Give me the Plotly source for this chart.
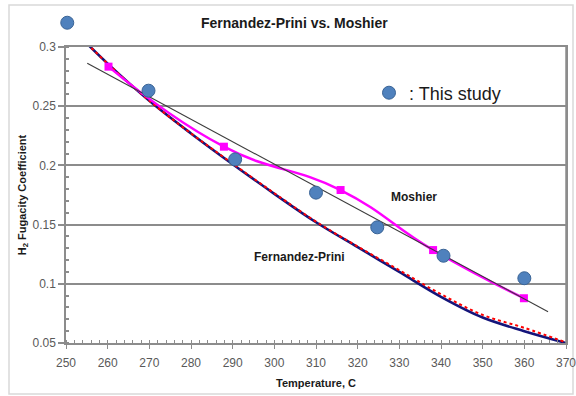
import plotly.graph_objects as go

# ---- data ----
study_T = [250.3, 269.8, 290.6, 310.0, 324.7, 340.6, 360.0]
study_phi = [0.3205, 0.2631, 0.2051, 0.1770, 0.1477, 0.1237, 0.1047]

moshier_T = [260.2, 287.9, 315.9, 338.1, 359.9]
moshier_phi = [0.2834, 0.2158, 0.1792, 0.1285, 0.0878]

fp_T = [255, 260, 270, 280, 290, 300, 310, 320, 330, 340, 350, 360, 370]
fp_phi = [0.303, 0.286, 0.2546, 0.227, 0.201, 0.176, 0.152, 0.131, 0.110, 0.089, 0.0715, 0.0600, 0.0500]

fp2_T = [255, 260, 270, 280, 290, 300, 310, 320, 330, 340, 350, 360, 370]
fp2_phi = [0.303, 0.286, 0.2546, 0.227, 0.2015, 0.1765, 0.1525, 0.1315, 0.1115, 0.0912, 0.0737, 0.0628, 0.0505]

fit_T = [255.1, 365.7]
fit_phi = [0.2862, 0.0764]

x_ticks = [250, 260, 270, 280, 290, 300, 310, 320, 330, 340, 350, 360, 370]
y_ticks = [0.05, 0.1, 0.15, 0.2, 0.25, 0.3]
y_ticklabels = ["0.05", "0.1", "0.15", "0.2", "0.25", "0.3"]

FONT = "Liberation Sans, Arial, sans-serif"

# ---- layout geometry (pixels) ----
W, H = 576, 396
L, R, T, B = 66, 10, 5, 53          # paper area margins
PLOT_TOP = 47                        # pixel row of y = 0.3 (top of plot box)
paper_h = H - T - B
main_top = (H - B - PLOT_TOP) / paper_h   # domain top of main y axis
y_lo, y_hi = 0.05, 0.3
y2_hi = y_lo + (y_hi - y_lo) / main_top   # same scale, full paper height


def px(xp):
    return (xp - L) / (W - L - R)


def py(yp):
    return (H - B - yp) / paper_h


fig = go.Figure()

fig.add_trace(go.Scatter(x=fp_T, y=fp_phi, mode="lines", line=dict(color="#14147A", width=2.6, shape="spline"),
                         showlegend=False, hoverinfo="skip"))
fig.add_trace(go.Scatter(x=fp2_T, y=fp2_phi, mode="lines", line=dict(color="#FF0000", width=2, dash="dot", shape="spline"),
                         showlegend=False, hoverinfo="skip"))
fig.add_trace(go.Scatter(x=moshier_T, y=moshier_phi, mode="lines+markers",
                         line=dict(color="#FF00FF", width=2.5, shape="spline", smoothing=1.3),
                         marker=dict(symbol="square", size=8, color="#FF00FF"),
                         showlegend=False))
fig.add_trace(go.Scatter(x=fit_T, y=fit_phi, mode="lines", line=dict(color="#3C3C3C", width=1.1),
                         showlegend=False, hoverinfo="skip"))
# study points on a second axis pair with identical scale but taller domain,
# so the 250 C point above the plot box is still drawn
fig.add_trace(go.Scatter(x=study_T, y=study_phi, mode="markers", name=": This study",
                         xaxis="x2", yaxis="y2", cliponaxis=False,
                         marker=dict(symbol="circle", size=13, color="#4F81BD", line=dict(color="#3A6496", width=1)),
                         showlegend=True))

fig.update_layout(
    width=W, height=H,
    margin=dict(l=L, r=R, t=T, b=B),
    paper_bgcolor="white", plot_bgcolor="rgba(0,0,0,0)",
    font=dict(family=FONT, size=12, color="#595959"),
    showlegend=True,
    legend=dict(x=px(369), y=py(93), xanchor="left", yanchor="middle", bgcolor="rgba(0,0,0,0)",
                font=dict(family=FONT, size=18, color="#1A1A1A"), itemsizing="trace",
                borderwidth=0),
    xaxis=dict(range=[250, 370], domain=[0, 1], tickvals=x_ticks, showgrid=False, zeroline=False, automargin=False,
               showline=True, mirror=True, linecolor="#8C8C8C", linewidth=1.5,
               ticks="outside", ticklen=4, tickcolor="#8C8C8C", tickwidth=1.2,
               minor=dict(dtick=2, ticks="inside", ticklen=3, tickcolor="#8C8C8C", showgrid=False),
               tickfont=dict(size=12, color="#595959"), ticklabelstandoff=4, ticklabeloverflow="allow",
               title=dict(text="Temperature, C", font=dict(family=FONT, size=11, color="#1A1A1A", weight="bold"),
                          standoff=10)),
    yaxis=dict(range=[y_lo, y_hi], domain=[0, main_top], tickvals=y_ticks, ticktext=y_ticklabels, showgrid=True,
               gridcolor="#8C8C8C", gridwidth=1.5, zeroline=False, automargin=False,
               showline=True, mirror=True, linecolor="#8C8C8C", linewidth=1.5,
               ticks="outside", ticklen=6, tickcolor="#8C8C8C", tickwidth=1.5,
               minor=dict(dtick=0.01, ticks="inside", ticklen=3, tickcolor="#8C8C8C", showgrid=False),
               tickfont=dict(size=12, color="#595959"), ticklabeloverflow="allow",
               title=dict(text="H<sub>2</sub> Fugacity Coefficient",
                          font=dict(family=FONT, size=11, color="#1A1A1A", weight="bold"), standoff=4)),
    xaxis2=dict(range=[250, 370], domain=[0, 1], anchor="y2", visible=False, automargin=False),
    yaxis2=dict(range=[y_lo, y2_hi], domain=[0, 1], anchor="x2", visible=False, automargin=False),
)

fig.add_annotation(text="<b>Fernandez-Prini vs. Moshier</b>", xref="paper", yref="paper",
                   x=px(294), y=py(23), xanchor="center", yanchor="middle", showarrow=False,
                   font=dict(family=FONT, size=14, color="#1A1A1A"))
fig.add_annotation(text="<b>Moshier</b>", xref="paper", yref="paper", x=px(414), y=py(197),
                   xanchor="center", yanchor="middle", showarrow=False,
                   font=dict(family=FONT, size=12, color="#1A1A1A"))
fig.add_annotation(text="<b>Fernandez-Prini</b>", xref="paper", yref="paper", x=px(299), y=py(257),
                   xanchor="center", yanchor="middle", showarrow=False,
                   font=dict(family=FONT, size=12, color="#1A1A1A"))

# right edge of the plot box
fig.add_shape(type="line", xref="x domain", yref="y domain", x0=1, x1=1, y0=0, y1=1,
              line=dict(color="#8C8C8C", width=1.5))
# outer chart border
fig.add_shape(type="rect", xref="paper", yref="paper",
              x0=px(9), x1=px(573), y0=py(394), y1=py(5),
              line=dict(color="#D9D9D9", width=1.5), layer="below")

fig.write_html("out.html", config={"displayModeBar": False},
               post_script="document.body.style.margin='0';document.body.style.overflow='hidden';")
